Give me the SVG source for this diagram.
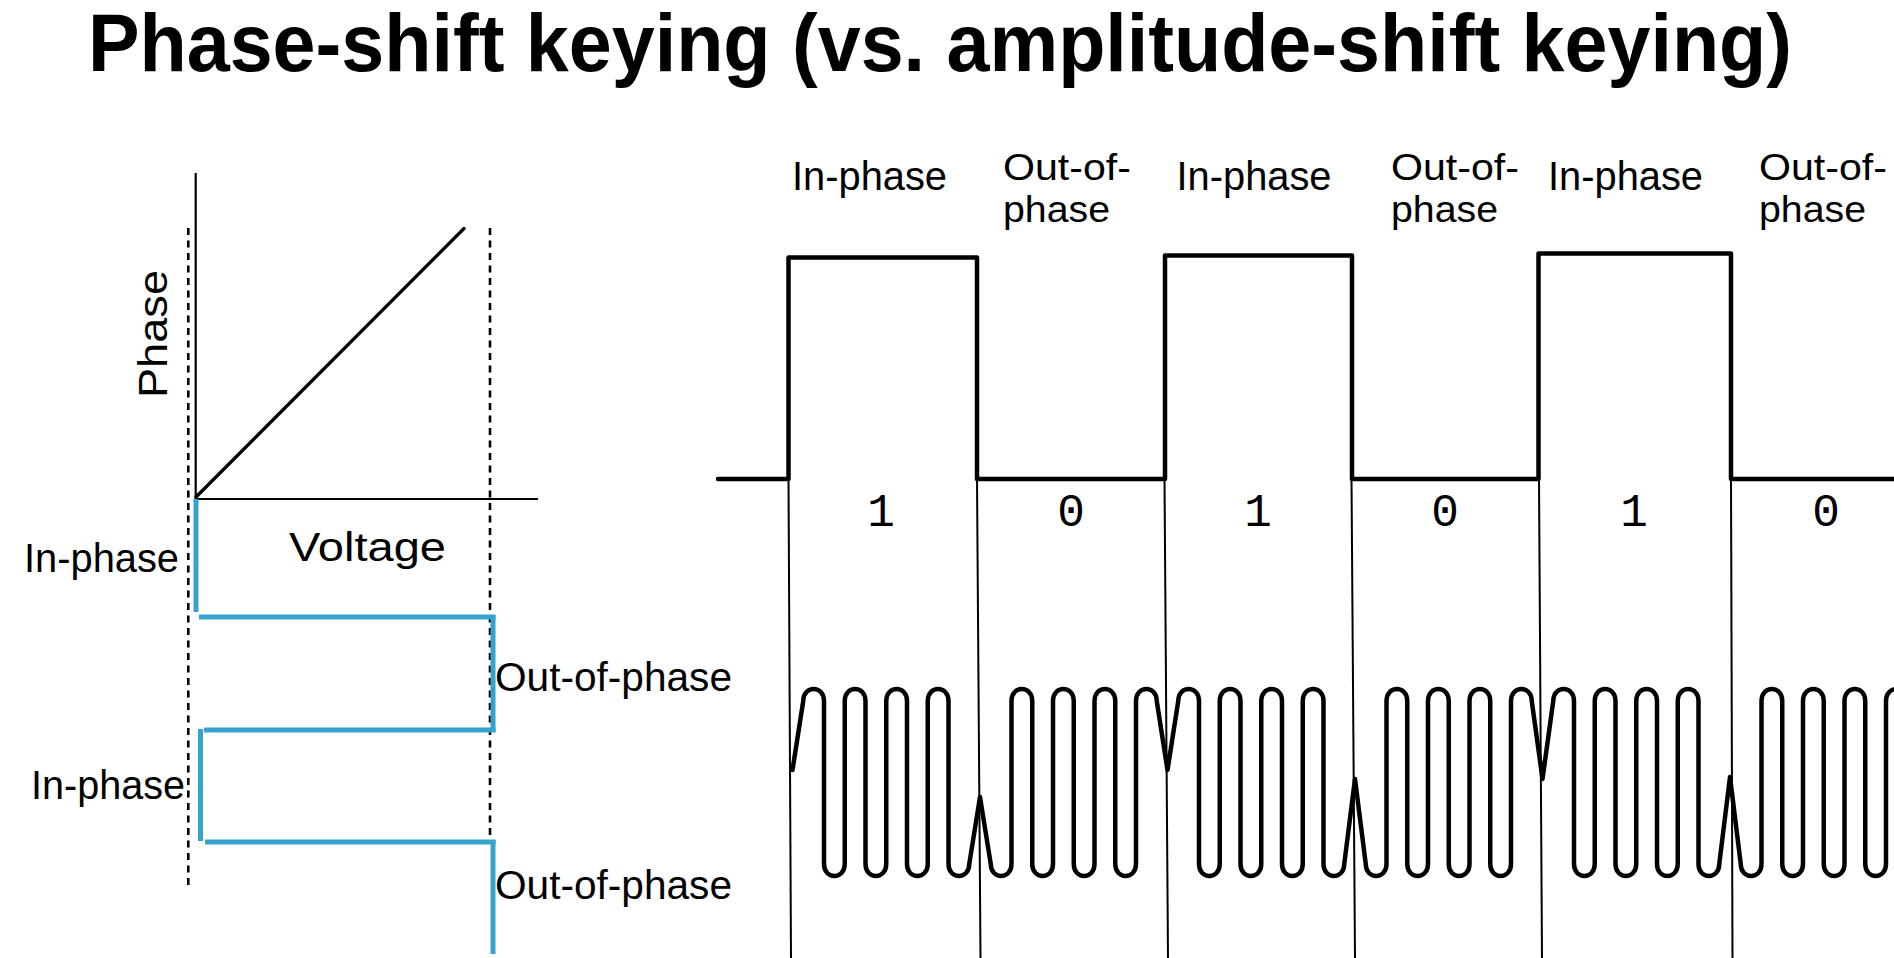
<svg xmlns="http://www.w3.org/2000/svg" width="1894" height="958" viewBox="0 0 1894 958">
<style>
text{font-family:"Liberation Sans",Arial,Helvetica,sans-serif;fill:#000}
.title{font-size:81px;font-weight:bold}
.lbl{font-size:40px}
.top{font-size:41px}
.two{font-size:37px}
.dig{font-family:"Liberation Mono","Courier New",monospace;font-size:46px;text-anchor:middle}
.ax{stroke:#000;stroke-width:2.2;fill:none}
.dash{stroke:#000;stroke-width:2.6;stroke-dasharray:7 5.5;fill:none}
.blue{stroke:#36a3cf;stroke-width:5;fill:none}
.ink{stroke:#000;fill:none;stroke-linejoin:round;stroke-linecap:round}
</style>
<rect width="1894" height="958" fill="#fff"/>
<g id="title"><text class="title" x="88" y="71" textLength="1704" lengthAdjust="spacingAndGlyphs">Phase-shift keying (vs. amplitude-shift keying)</text></g>

<g id="phase-plot">
<line class="dash" x1="188.3" y1="228" x2="188.3" y2="889"/>
<line class="dash" x1="490" y1="228" x2="490" y2="842"/>
<line class="ax" x1="195.7" y1="173" x2="195.7" y2="499"/>
<line class="ax" x1="195" y1="499" x2="538" y2="499"/>
<line class="ink" stroke-width="3.3" x1="196" y1="497" x2="464" y2="228.5"/>
<text class="lbl" transform="translate(166.7,334) rotate(-90)" text-anchor="middle" font-size="49" textLength="128" lengthAdjust="spacingAndGlyphs">Phase</text>
<text class="lbl" x="289" y="561" font-size="45.6" textLength="157" lengthAdjust="spacingAndGlyphs">Voltage</text>
</g>

<g id="blue-steps">
<line class="blue" x1="196" y1="499" x2="196" y2="612"/>
<line class="blue" x1="199" y1="617" x2="495.5" y2="617"/>
<line class="blue" x1="493" y1="615" x2="493" y2="732"/>
<line class="blue" x1="204" y1="730" x2="495.5" y2="730"/>
<line class="blue" x1="200.5" y1="729" x2="200.5" y2="841"/>
<line class="blue" x1="205" y1="842" x2="495.5" y2="842"/>
<line class="blue" x1="493" y1="840" x2="493" y2="954"/>
</g>

<g id="left-labels">
<text class="lbl" x="24" y="572" textLength="155" lengthAdjust="spacingAndGlyphs">In-phase</text>
<text class="lbl" x="495" y="691" textLength="237" lengthAdjust="spacingAndGlyphs">Out-of-phase</text>
<text class="lbl" x="31" y="799" textLength="154" lengthAdjust="spacingAndGlyphs">In-phase</text>
<text class="lbl" x="495" y="899" textLength="237" lengthAdjust="spacingAndGlyphs">Out-of-phase</text>
</g>

<g id="top-labels">
<text class="top" x="792" y="190" textLength="155" lengthAdjust="spacingAndGlyphs">In-phase</text>
<text class="two"><tspan x="1003" y="180" textLength="128" lengthAdjust="spacingAndGlyphs">Out-of-</tspan><tspan x="1003" y="221.5" textLength="107" lengthAdjust="spacingAndGlyphs">phase</tspan></text>
<text class="top" x="1176.5" y="190" textLength="155" lengthAdjust="spacingAndGlyphs">In-phase</text>
<text class="two"><tspan x="1391" y="180" textLength="128" lengthAdjust="spacingAndGlyphs">Out-of-</tspan><tspan x="1391" y="221.5" textLength="107" lengthAdjust="spacingAndGlyphs">phase</tspan></text>
<text class="top" x="1548" y="190" textLength="155" lengthAdjust="spacingAndGlyphs">In-phase</text>
<text class="two"><tspan x="1759" y="180" textLength="128" lengthAdjust="spacingAndGlyphs">Out-of-</tspan><tspan x="1759" y="221.5" textLength="107" lengthAdjust="spacingAndGlyphs">phase</tspan></text>
</g>

<g id="square-wave">
<path class="ink" stroke-width="4.5" stroke-linecap="butt" stroke-linejoin="miter" d="M718,479 H788.5 V257.5 H977 V479 H1165 V255.5 H1352 V479 H1538.5 V253.5 H1731 V479 H1894"/>
</g>

<g id="dividers" stroke="#000" stroke-width="2">
<line x1="788.5" y1="479" x2="791" y2="958"/>
<line x1="977" y1="479" x2="980.5" y2="958"/>
<line x1="1164.5" y1="479" x2="1168" y2="958"/>
<line x1="1351.5" y1="479" x2="1355" y2="958"/>
<line x1="1539" y1="479" x2="1542" y2="958"/>
<line x1="1731" y1="479" x2="1732.5" y2="958"/>
</g>

<g id="bits">
<text class="dig" x="881" y="526">1</text>
<text class="dig" x="1071" y="526">0</text>
<text class="dig" x="1258" y="526">1</text>
<text class="dig" x="1445" y="526">0</text>
<text class="dig" x="1634" y="526">1</text>
<text class="dig" x="1826" y="526">0</text>
</g>

<g id="carrier">
<path class="ink" stroke-width="4.5" d="M792.5,770 L803.25,701
c0,-16 20.75,-16 20.75,0 v163 c0,16 20.75,16 20.75,0 v-163 c0,-16 20.75,-16 20.75,0 v163 c0,16 20.75,16 20.75,0 v-163 c0,-16 20.75,-16 20.75,0 v163 c0,16 20.75,16 20.75,0 v-163 c0,-16 20.75,-16 20.75,0 v163 c0,16 20.75,16 20.75,0
L980,797 L990.75,864
c0,16 20.75,16 20.75,0 v-163 c0,-16 20.75,-16 20.75,0 v163 c0,16 20.75,16 20.75,0 v-163 c0,-16 20.75,-16 20.75,0 v163 c0,16 20.75,16 20.75,0 v-163 c0,-16 20.75,-16 20.75,0 v163 c0,16 20.75,16 20.75,0 v-163 c0,-16 20.75,-16 20.75,0
L1167.5,770 L1178.25,701
c0,-16 20.75,-16 20.75,0 v163 c0,16 20.75,16 20.75,0 v-163 c0,-16 20.75,-16 20.75,0 v163 c0,16 20.75,16 20.75,0 v-163 c0,-16 20.75,-16 20.75,0 v163 c0,16 20.75,16 20.75,0 v-163 c0,-16 20.75,-16 20.75,0 v163 c0,16 20.75,16 20.75,0
L1355,779 L1365.75,864
c0,16 20.75,16 20.75,0 v-163 c0,-16 20.75,-16 20.75,0 v163 c0,16 20.75,16 20.75,0 v-163 c0,-16 20.75,-16 20.75,0 v163 c0,16 20.75,16 20.75,0 v-163 c0,-16 20.75,-16 20.75,0 v163 c0,16 20.75,16 20.75,0 v-163 c0,-16 20.75,-16 20.75,0
L1542.5,779 L1553.25,701
c0,-16 20.75,-16 20.75,0 v163 c0,16 20.75,16 20.75,0 v-163 c0,-16 20.75,-16 20.75,0 v163 c0,16 20.75,16 20.75,0 v-163 c0,-16 20.75,-16 20.75,0 v163 c0,16 20.75,16 20.75,0 v-163 c0,-16 20.75,-16 20.75,0 v163 c0,16 20.75,16 20.75,0
L1730,777 L1740.75,864
c0,16 20.75,16 20.75,0 v-163 c0,-16 20.75,-16 20.75,0 v163 c0,16 20.75,16 20.75,0 v-163 c0,-16 20.75,-16 20.75,0 v163 c0,16 20.75,16 20.75,0 v-163 c0,-16 20.75,-16 20.75,0 v163 c0,16 20.75,16 20.75,0 v-163 c0,-16 20.75,-16 20.75,0
L1917.5,770"/>
</g>
</svg>
